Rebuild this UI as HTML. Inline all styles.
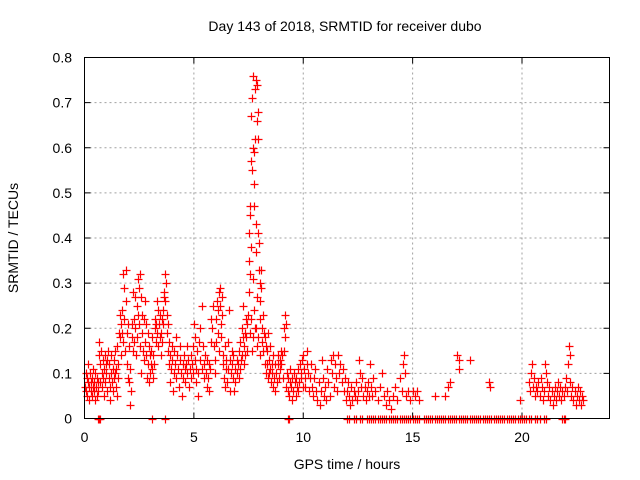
<!DOCTYPE html>
<html><head><meta charset="utf-8"><style>
html,body{margin:0;padding:0;background:#fff;width:640px;height:480px;overflow:hidden}
svg text{font-family:"Liberation Sans",Arial,sans-serif;font-size:14px;fill:#000}
</style></head><body>
<svg id="chart" width="640" height="480" xmlns="http://www.w3.org/2000/svg">
<text x="345" y="31" text-anchor="middle">Day 143 of 2018, SRMTID for receiver dubo</text>
<text transform="translate(18,238) rotate(-90)" text-anchor="middle">SRMTID / TECUs</text>
<text x="347" y="469" text-anchor="middle">GPS time / hours</text>
<g id="grid"></g>
<g id="ticks"></g>
<g id="marks"></g>
<rect x="84.5" y="57.5" width="525" height="361" fill="none" stroke="#000" stroke-width="1"/>
</svg>
<script>
const xTicks=[0,5,10,15,20];
const xTickLabels=["0","5","10","15","20"];
const yTicks=[0,0.1,0.2,0.3,0.4,0.5,0.6,0.7,0.8];
const yTickLabels=["0","0.1","0.2","0.3","0.4","0.5","0.6","0.7","0.8"];
const points=[
[0.02,0.07],[0.05,0.1],[0.08,0.06],[0.1,0.09],[0.12,0.05],[0.15,0.08],[0.18,0.12],[0.2,0.07],[0.22,0.04],[0.25,0.1],[0.28,0.06],[0.3,0.08],[0.33,0.09],[0.35,0.05],[0.38,0.07],[0.4,0.11],[0.42,0.06],[0.45,0.08],[0.48,0.04],[0.5,0.1],[0.53,0.07],[0.55,0.05],[0.58,0.09],[0.6,0.06],[0.63,0.08],[0.66,0.17],[0.68,0.14],[0.7,0.12],[0.72,0.08],[0.75,0.15],[0.78,0.1],[0.8,0.07],[0.83,0.13],[0.85,0.09],[0.88,0.05],[0.9,0.11],[0.93,0.14],[0.95,0.08],[0.98,0.12],
[1.0,0.1],[1.03,0.06],[1.05,0.13],[1.08,0.15],[1.1,0.09],[1.13,0.12],[1.15,0.07],[1.18,0.04],[1.2,0.1],[1.23,0.14],[1.25,0.08],[1.28,0.11],[1.3,0.06],[1.33,0.09],[1.35,0.13],[1.38,0.1],[1.4,0.15],[1.43,0.07],[1.45,0.11],[1.48,0.16],[1.5,0.05],[1.53,0.09],[1.55,0.12],[1.58,0.19],[1.6,0.23],[1.63,0.18],[1.65,0.21],[1.68,0.14],[1.7,0.19],[1.73,0.24],[1.75,0.17],[1.78,0.32],[1.8,0.29],[1.82,0.22],[1.85,0.15],[1.88,0.33],[1.9,0.26],[1.92,0.19],[1.95,0.12],[1.98,0.21],
[2.0,0.09],[2.03,0.16],[2.05,0.08],[2.08,0.03],[2.1,0.11],[2.12,0.06],[2.15,0.18],[2.18,0.21],[2.2,0.15],[2.23,0.28],[2.25,0.22],[2.28,0.17],[2.3,0.27],[2.33,0.2],[2.35,0.14],[2.38,0.25],[2.4,0.18],[2.43,0.23],[2.45,0.31],[2.48,0.29],[2.5,0.21],[2.53,0.16],[2.55,0.32],[2.58,0.27],[2.6,0.1],[2.63,0.19],[2.65,0.23],[2.68,0.15],[2.7,0.22],[2.73,0.13],[2.75,0.26],[2.78,0.17],[2.8,0.21],[2.83,0.14],[2.85,0.09],[2.88,0.19],[2.9,0.12],[2.93,0.16],[2.95,0.08],[2.98,0.14],
[3.0,0.1],[3.03,0.15],[3.05,0.12],[3.08,0.18],[3.1,0.11],[3.13,0.14],[3.15,0.09],[3.18,0.12],[3.2,0.2],[3.23,0.22],[3.25,0.17],[3.28,0.21],[3.3,0.26],[3.33,0.19],[3.35,0.24],[3.38,0.16],[3.4,0.21],[3.43,0.18],[3.45,0.23],[3.48,0.14],[3.5,0.19],[3.53,0.17],[3.55,0.22],[3.58,0.21],[3.6,0.24],[3.63,0.28],[3.65,0.27],[3.68,0.26],[3.7,0.32],[3.73,0.3],[3.75,0.23],[3.78,0.19],[3.8,0.15],[3.83,0.21],[3.85,0.12],[3.88,0.17],[3.9,0.14],[3.93,0.08],[3.95,0.11],[3.98,0.16],
[4.0,0.13],[4.05,0.06],[4.08,0.1],[4.1,0.15],[4.15,0.12],[4.18,0.18],[4.2,0.09],[4.25,0.14],[4.28,0.11],[4.3,0.07],[4.35,0.13],[4.38,0.16],[4.4,0.1],[4.45,0.05],[4.48,0.12],[4.5,0.09],[4.55,0.14],[4.58,0.11],[4.6,0.08],[4.65,0.12],[4.68,0.16],[4.7,0.1],[4.75,0.13],[4.78,0.07],[4.8,0.11],[4.85,0.14],[4.88,0.09],[4.9,0.12],[4.95,0.1],[4.98,0.16],
[5.0,0.21],[5.03,0.18],[5.05,0.13],[5.08,0.08],[5.1,0.11],[5.15,0.15],[5.18,0.05],[5.2,0.1],[5.25,0.17],[5.28,0.13],[5.3,0.2],[5.35,0.25],[5.38,0.11],[5.4,0.16],[5.45,0.09],[5.48,0.12],[5.5,0.14],[5.55,0.1],[5.58,0.07],[5.6,0.13],[5.65,0.09],[5.68,0.12],[5.7,0.06],[5.75,0.11],[5.78,0.17],[5.8,0.22],[5.85,0.2],[5.88,0.25],[5.9,0.16],[5.95,0.13],[5.98,0.1],
[6.0,0.17],[6.03,0.22],[6.05,0.26],[6.08,0.24],[6.1,0.19],[6.13,0.15],[6.15,0.28],[6.18,0.29],[6.2,0.25],[6.23,0.21],[6.25,0.18],[6.28,0.23],[6.3,0.27],[6.33,0.14],[6.35,0.12],[6.38,0.09],[6.4,0.16],[6.43,0.07],[6.45,0.11],[6.48,0.13],[6.5,0.08],[6.55,0.17],[6.58,0.11],[6.6,0.24],[6.63,0.13],[6.65,0.06],[6.7,0.1],[6.73,0.15],[6.75,0.12],[6.78,0.09],[6.8,0.14],[6.85,0.06],[6.88,0.11],[6.9,0.08],[6.95,0.13],[6.98,0.1],
[7.0,0.12],[7.05,0.09],[7.08,0.15],[7.1,0.11],[7.13,0.17],[7.15,0.13],[7.18,0.2],[7.2,0.14],[7.23,0.25],[7.25,0.18],[7.28,0.12],[7.3,0.16],[7.33,0.19],[7.35,0.14],[7.38,0.22],[7.4,0.18],[7.43,0.21],[7.45,0.15],[7.48,0.23],
[7.5,0.28],[7.52,0.35],[7.53,0.41],[7.55,0.32],[7.57,0.45],[7.58,0.47],[7.6,0.57],[7.62,0.38],[7.63,0.67],[7.65,0.71],[7.67,0.55],[7.68,0.31],[7.7,0.6],[7.72,0.76],[7.73,0.52],[7.75,0.59],[7.77,0.47],[7.78,0.73],[7.8,0.62],[7.82,0.75],[7.83,0.43],[7.85,0.37],[7.87,0.27],[7.88,0.66],[7.9,0.74],[7.92,0.68],[7.93,0.41],[7.95,0.62],[7.97,0.33],[7.98,0.39],[8.0,0.3],[8.02,0.26],[8.03,0.22],[8.05,0.33],[8.08,0.29],[8.1,0.2],[8.12,0.17],[8.15,0.23],[8.18,0.15],[8.2,0.19],[8.23,0.12],[8.25,0.18],[8.28,0.16],[8.3,0.1],
[7.6,0.22],[7.7,0.18],[7.8,0.2],[7.9,0.16],[8.0,0.14],[7.65,0.15],[7.55,0.19],[7.75,0.24],[7.85,0.2],[7.95,0.18],
[8.33,0.15],[8.35,0.12],[8.38,0.19],[8.4,0.09],[8.43,0.13],[8.45,0.1],[8.48,0.16],[8.5,0.11],[8.53,0.08],[8.55,0.12],[8.58,0.1],[8.6,0.14],[8.63,0.07],[8.65,0.09],[8.7,0.12],[8.73,0.06],[8.75,0.1],[8.8,0.08],[8.83,0.12],[8.85,0.14],[8.9,0.09],[8.93,0.11],[8.95,0.13],[8.98,0.15],
[9.0,0.12],[9.05,0.14],[9.08,0.09],[9.1,0.15],[9.13,0.2],[9.15,0.23],[9.18,0.18],[9.2,0.21],[9.23,0.07],[9.25,0.1],[9.28,0.06],[9.3,0.09],[9.35,0.05],[9.38,0.08],[9.4,0.11],[9.45,0.07],[9.48,0.04],[9.5,0.09],[9.55,0.06],[9.58,0.1],[9.6,0.08],[9.65,0.05],[9.68,0.09],[9.7,0.07],[9.75,0.11],[9.78,0.06],[9.8,0.08],[9.85,0.12],[9.88,0.09],[9.9,0.1],[9.95,0.13],[9.98,0.07],
[10.0,0.14],[10.05,0.11],[10.08,0.09],[10.1,0.07],[10.15,0.15],[10.18,0.12],[10.2,0.1],[10.25,0.06],[10.3,0.09],[10.35,0.12],[10.4,0.07],[10.45,0.05],[10.5,0.09],[10.55,0.11],[10.6,0.06],[10.65,0.04],[10.7,0.08],[10.75,0.03],[10.8,0.06],[10.85,0.13],[10.9,0.09],[10.95,0.05],[11.0,0.07],[11.05,0.04],[11.1,0.11],[11.15,0.08],[11.2,0.05],[11.25,0.13],[11.3,0.1],[11.35,0.14],[11.4,0.07],[11.45,0.12],[11.5,0.09],[11.55,0.06],[11.6,0.14],[11.65,0.1],[11.7,0.12],[11.75,0.08],[11.8,0.11],[11.85,0.06],[11.9,0.09],[11.95,0.04],
[12.0,0.06],[12.05,0.08],[12.1,0.05],[12.15,0.03],[12.2,0.07],[12.25,0.04],[12.3,0.06],[12.35,0.05],[12.4,0.08],[12.45,0.04],[12.5,0.06],[12.55,0.13],[12.6,0.1],[12.65,0.07],[12.7,0.09],[12.75,0.05],[12.8,0.07],[12.85,0.04],[12.9,0.06],[12.95,0.08],[13.0,0.05],[13.05,0.12],[13.1,0.07],[13.15,0.05],[13.2,0.09],[13.3,0.06],[13.4,0.04],[13.5,0.07],[13.6,0.1],[13.7,0.05],[13.8,0.03],[13.85,0.06],[13.9,0.04],[14.0,0.02],[14.1,0.05],[14.2,0.07],[14.3,0.04],[14.4,0.09],[14.5,0.06],[14.55,0.12],[14.6,0.14],[14.65,0.1],[14.7,0.05],[14.8,0.06],[14.9,0.04],[15.0,0.06],[15.1,0.05],[15.2,0.06],[15.3,0.04],
[16.0,0.05],[16.5,0.05],[16.6,0.07],[16.7,0.08],[17.05,0.14],[17.1,0.11],[17.1,0.13],[17.6,0.13],[18.5,0.08],[18.55,0.07],[19.9,0.04],
[20.3,0.08],[20.35,0.06],[20.4,0.1],[20.45,0.12],[20.5,0.07],[20.55,0.09],[20.6,0.05],[20.65,0.07],[20.7,0.06],[20.75,0.08],[20.8,0.05],[20.85,0.09],[20.9,0.07],[20.95,0.04],[21.0,0.06],[21.05,0.12],[21.1,0.1],[21.15,0.08],[21.2,0.05],[21.25,0.07],[21.3,0.04],[21.35,0.06],[21.4,0.03],[21.45,0.05],[21.5,0.07],[21.55,0.04],[21.6,0.06],[21.65,0.08],[21.7,0.05],[21.75,0.07],[21.8,0.04],[21.85,0.06],[21.9,0.05],[21.95,0.07],[22.0,0.09],[22.05,0.06],[22.1,0.12],[22.15,0.16],[22.18,0.14],[22.2,0.08],[22.25,0.05],[22.3,0.07],[22.35,0.04],[22.4,0.06],[22.45,0.03],[22.5,0.05],[22.55,0.07],[22.6,0.04],[22.65,0.06],[22.7,0.03],[22.75,0.05],[22.8,0.04]
];
const zeroHours=[0.6,0.65,0.7,3.1,3.7,9.3,9.35,12.0,12.1,12.3,12.4,12.6,12.7,12.9,13.0,13.1,13.2,13.3,13.4,13.5,13.6,13.7,13.8,13.9,14.0,14.1,14.2,14.3,14.4,14.5,14.6,14.7,14.8,14.9,15.0,15.1,15.2,15.3,15.5,15.6,15.7,15.8,15.9,16.0,16.1,16.2,16.3,16.4,16.5,16.6,16.7,16.8,16.9,17.0,17.1,17.2,17.3,17.4,17.5,17.6,17.7,17.8,17.9,18.0,18.1,18.2,18.3,18.4,18.5,18.6,18.7,18.8,18.9,19.0,19.1,19.2,19.3,19.4,19.5,19.6,19.7,19.8,19.9,20.0,20.1,20.2,20.3,20.4,20.6,20.7,20.8,21.0,21.1,21.85,21.9,21.95];

const NS="http://www.w3.org/2000/svg";
const L=84.5,R=609.5,T=57.5,B=418.5,XMAX=24,YMAX=0.8;
function xs(v){return L+(v/XMAX)*(R-L);}
function ys(v){return B-(v/YMAX)*(B-T);}
function mk(tag,attrs,parent){const e=document.createElementNS(NS,tag);for(const k in attrs)e.setAttribute(k,attrs[k]);parent.appendChild(e);return e;}
const grid=document.getElementById('grid'),ticks=document.getElementById('ticks'),marks=document.getElementById('marks');
xTicks.forEach((t,i)=>{
  const x=xs(t);
  if(t>0){const g=mk('line',{x1:x,x2:x,y1:T,y2:B,stroke:'#a0a0a0','stroke-dasharray':'2,3'},grid);
  
  }
  const a=mk('line',{x1:x,x2:x,y1:B,y2:B-6,stroke:'#000'},ticks);
  
  
  const b=mk('line',{x1:x,x2:x,y1:T,y2:T+6,stroke:'#000'},ticks);
  
  
  const tx=mk('text',{x:x,y:442,'text-anchor':'middle'},ticks);tx.textContent=xTickLabels[i];
  
  
});
yTicks.forEach((t,i)=>{
  const y=ys(t);
  if(t>0&&t<YMAX){const g=mk('line',{x1:L,x2:R,y1:y,y2:y,stroke:'#a0a0a0','stroke-dasharray':'2,3'},grid);
  
  }
  const a=mk('line',{x1:L,x2:L+6,y1:y,y2:y,stroke:'#000'},ticks);
  
  
  const b=mk('line',{x1:R,x2:R-6,y1:y,y2:y,stroke:'#000'},ticks);
  
  
  const tx=mk('text',{x:72,y:y+5,'text-anchor':'end'},ticks);tx.textContent=yTickLabels[i];
  
  
});
function plus(x,y){
  const p=mk('path',{d:`M${x-4},${y}H${x+4}M${x},${y-4}V${y+4}`,stroke:'#ff0000','stroke-width':1.2,fill:'none'},marks);
  
  
}
points.forEach(p=>plus(Math.round(xs(p[0]))+0.5,Math.round(ys(p[1]))+0.5));
zeroHours.forEach(h=>plus(Math.round(xs(h))+0.5,Math.round(ys(0))+0.5));
</script>
</body></html>
